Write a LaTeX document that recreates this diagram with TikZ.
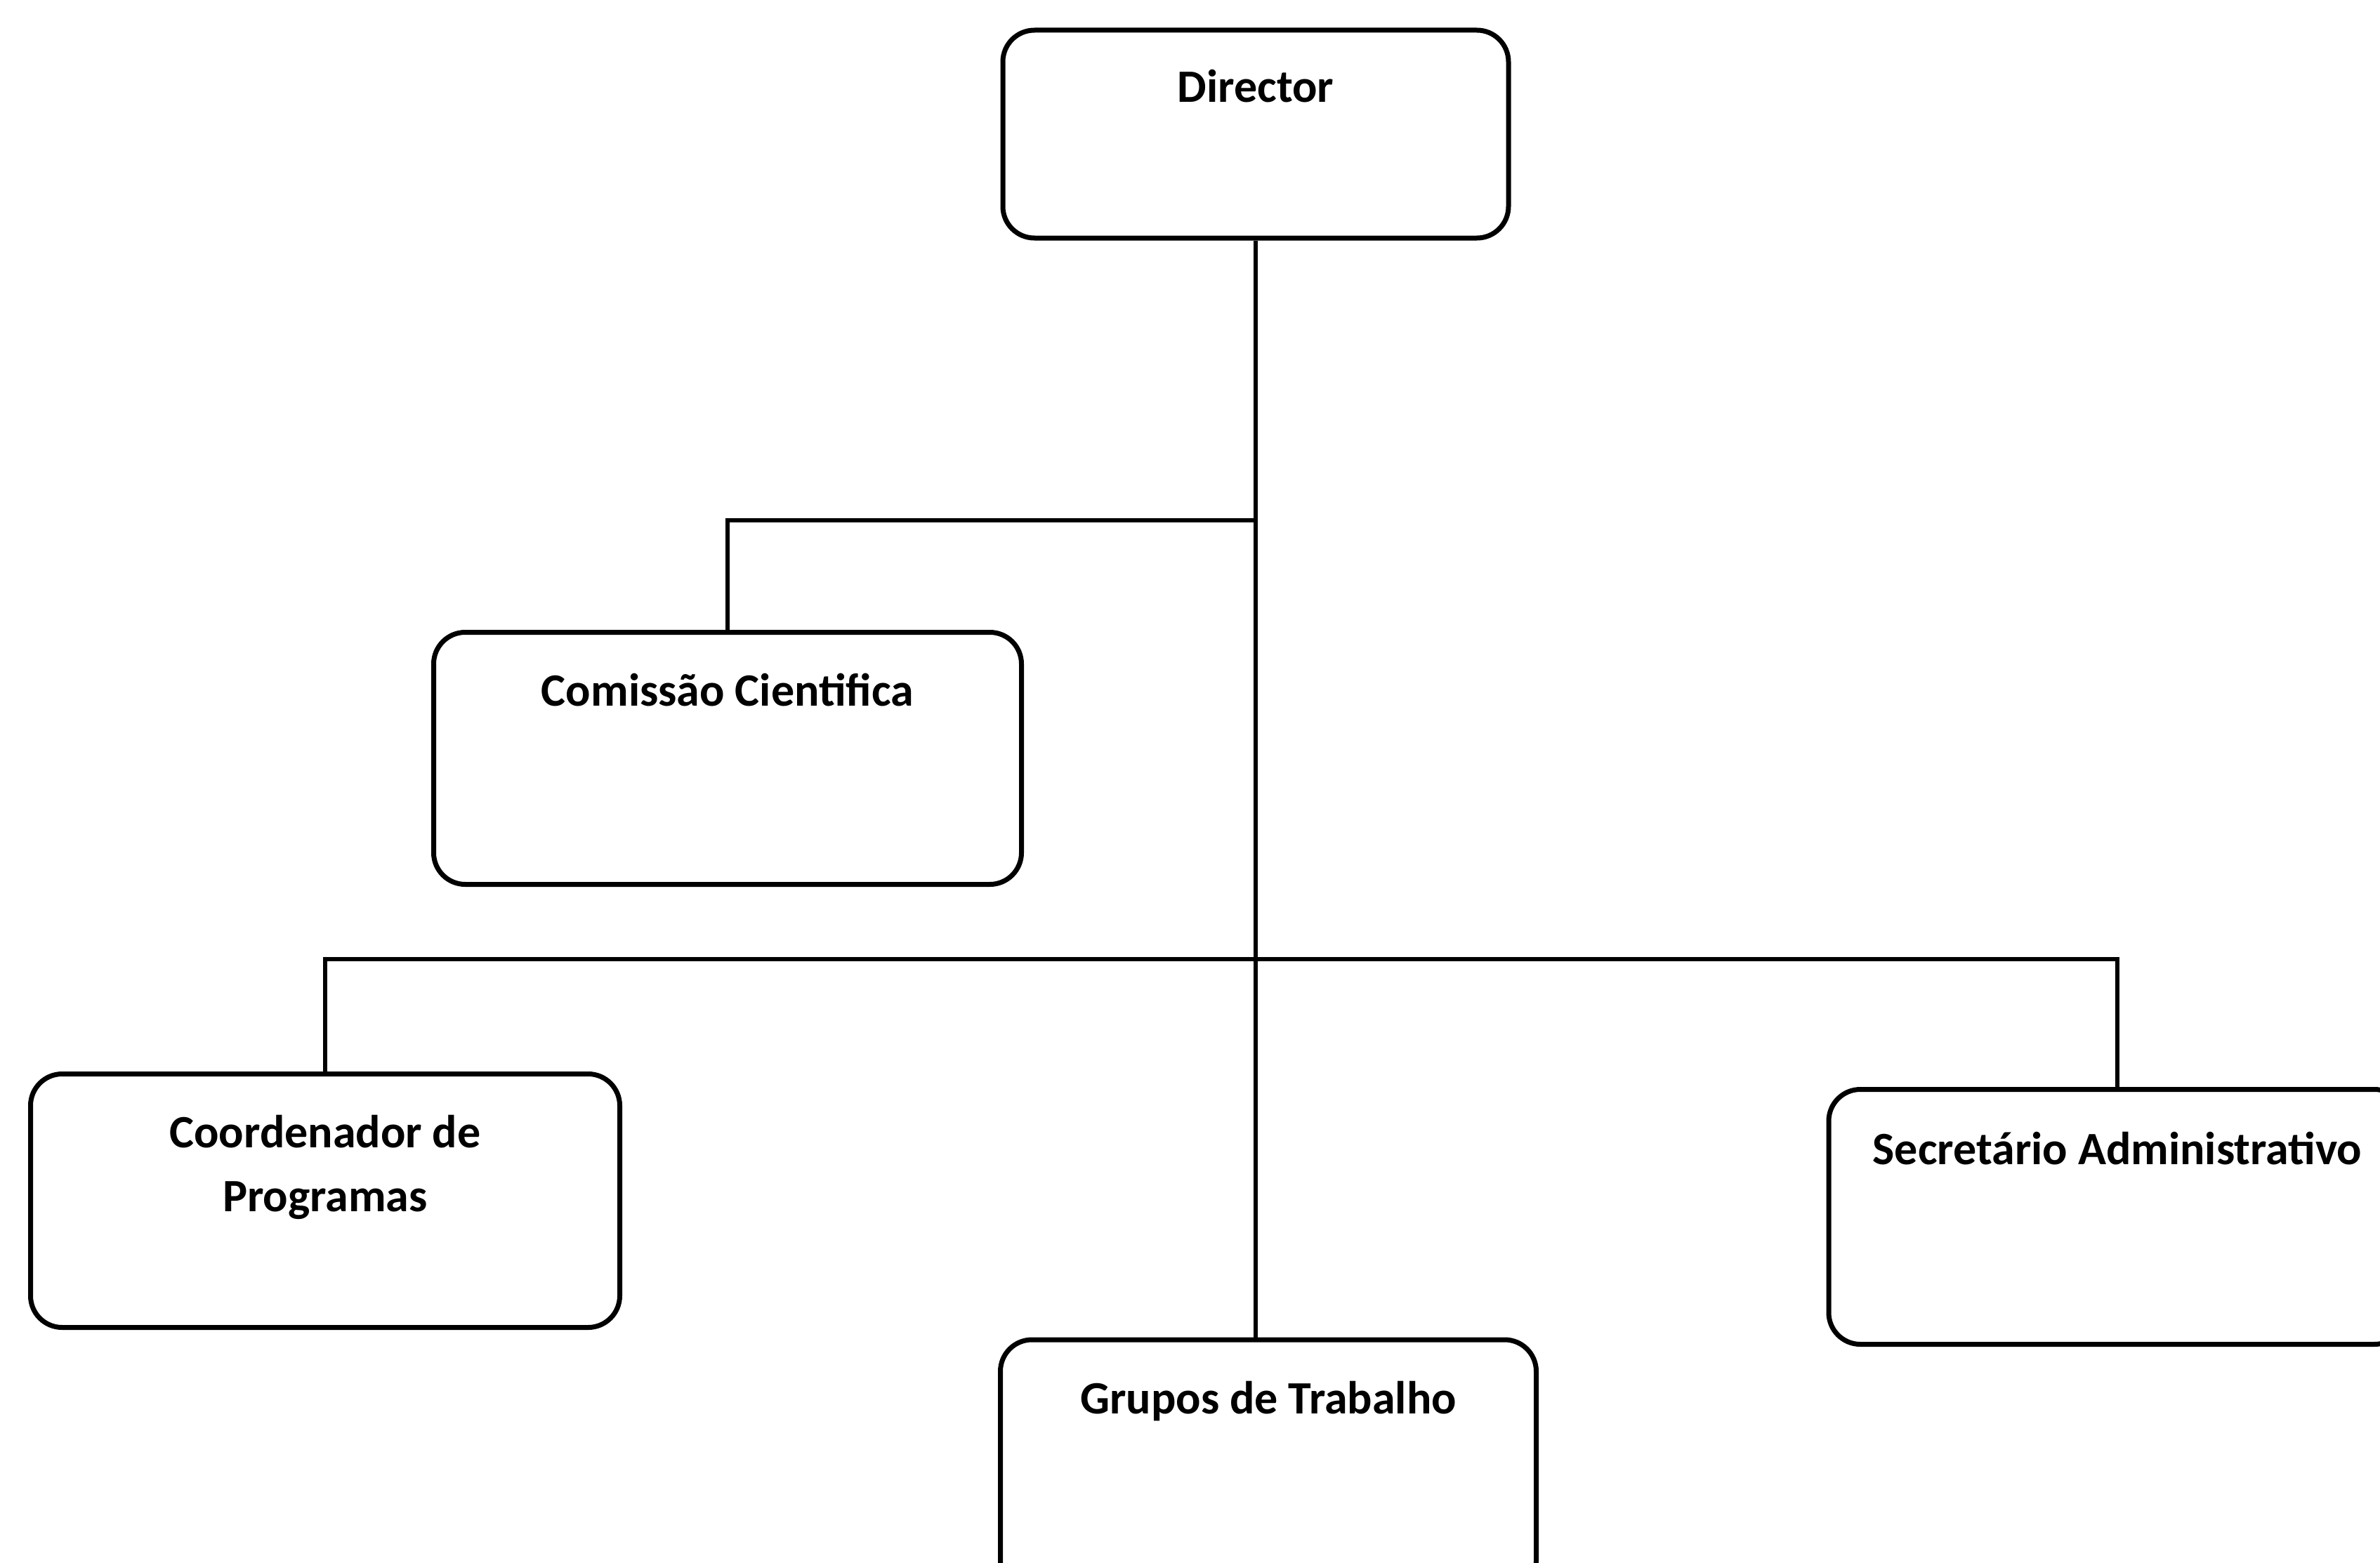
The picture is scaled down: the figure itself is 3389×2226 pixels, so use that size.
\documentclass[tikz,border=0pt]{standalone}
\usepackage{fontspec}
\setmainfont{Carlito}
\usetikzlibrary{positioning, calc}

\begin{document}
\begin{tikzpicture}[
                x=1pt, y=-1pt,
                orgbox/.style={draw=black, line width=7pt, rounded corners=45pt, rectangle, fill=white},
                boxtext/.style={font=\fontsize{66}{91}\selectfont\bfseries, align=center, anchor=base, inner sep=0pt},
                edge/.style={line width=5.5pt}
            ]
            \useasboundingbox (0,0) rectangle (3389,2226);
            \clip (0,0) rectangle (3389,2226);

            % Caixas
            \node[orgbox, minimum width=720pt, minimum height=296pt] (dir) at (1788,191) {};
            \node[orgbox, minimum width=837pt, minimum height=359pt] (com) at (1036,1080) {};
            \node[orgbox, minimum width=839pt, minimum height=361pt] (coo) at (463,1710) {};
            \node[orgbox, minimum width=763pt, minimum height=360pt] (grp) at (1806,2088) {};
            \node[orgbox, minimum width=822pt, minimum height=363pt] (sec) at (3015,1733) {};

            % Textos
            \node[boxtext] (dirtext) at ([yshift=-106pt]dir.north) {Director};
            \node[boxtext] (comtext) at ([yshift=-108pt]com.north) {Comissão Cientifica};
            \node[boxtext] (cootext) at ([yshift=-199pt]coo.north) {Coordenador de\\Programas};
            \node[boxtext] (grptext) at ([yshift=-109pt]grp.north) {Grupos de Trabalho};
            \node[boxtext] (sectext) at ([yshift=-110pt]sec.north) {Secretário Administrativo};

            % Ligações
            \coordinate (jcom) at (dir.south |- 0,741);
            \coordinate (jbar) at (dir.south |- 0,1366);
            \draw[edge] (dir.south) -- (dir.south |- grp.north);
            \draw[edge] (jcom) -| (com.north);
            \draw[edge] (coo.north) |- (jbar) -| (sec.north);

        \end{tikzpicture}
\end{document}
